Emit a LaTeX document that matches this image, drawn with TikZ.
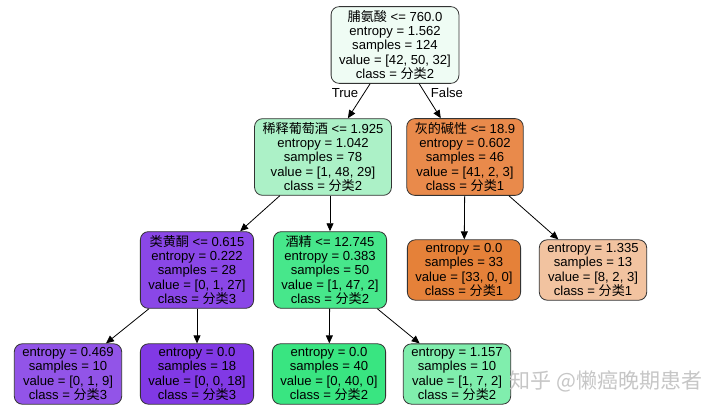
\documentclass[tikz,border=0pt]{standalone}
\usepackage{fontspec}
\setmainfont{Liberation Sans}
\newfontfamily\cjk{Noto Sans CJK SC}
\usetikzlibrary{arrows.meta}

\newcommand{\zh}[1]{{\cjk #1}}

\tikzset{
	leaf/.style={draw=black!80, line width=0.8pt, rounded corners=8pt, align=center,
		inner xsep=8pt, inner ysep=3.5pt, font=\fontsize{13.1}{14.4}\selectfont},
	edge/.style={-{Triangle[length=8pt,width=7pt]}, line width=0.8pt}
}

\begin{document}
\begin{tikzpicture}[x=1pt,y=-1pt]
	
	\useasboundingbox (0,0) rectangle (720,414);
	
	% ---- Adjustable colors ----
	\definecolor{rootCol}{HTML}{EFFCF4}
	\definecolor{colB}{HTML}{ACF1C7}
	\definecolor{colC}{HTML}{E98A4B}
	\definecolor{colD}{HTML}{8A47E7}
	\definecolor{colE}{HTML}{47E78B}
	\definecolor{colF}{HTML}{E58139}
	\definecolor{colG}{HTML}{F2C3A0}
	\definecolor{colH}{HTML}{9254E8}
	\definecolor{colI}{HTML}{8139E5}
	\definecolor{colJ}{HTML}{39E581}
	\definecolor{colK}{HTML}{80EEAD}
	
	% ---- Split nodes ----
	\node[leaf, fill=rootCol] (root) at (395,45)
		{\zh{脯氨酸} <= 760.0\\entropy = 1.562\\samples = 124\\value = [42, 50, 32]\\class = \zh{分类}2};
	\node[leaf, fill=colB] (nB) at (323,157)
		{\zh{稀释葡萄酒} <= 1.925\\entropy = 1.042\\samples = 78\\value = [1, 48, 29]\\class = \zh{分类}2};
	\node[leaf, fill=colC] (nC) at (465,157)
		{\zh{灰的碱性} <= 18.9\\entropy = 0.602\\samples = 46\\value = [41, 2, 3]\\class = \zh{分类}1};
	\node[leaf, fill=colD] (nD) at (197,270)
		{\zh{类黄酮} <= 0.615\\entropy = 0.222\\samples = 28\\value = [0, 1, 27]\\class = \zh{分类}3};
	\node[leaf, fill=colE] (nE) at (330,270)
		{\zh{酒精} <= 12.745\\entropy = 0.383\\samples = 50\\value = [1, 47, 2]\\class = \zh{分类}2};
	
	% ---- Leaves ----
	\foreach \name/\x/\y/\col/\ent/\smp/\val/\cls in {
		F/464/270/colF/0.0/33/{[33, 0, 0]}/1,
		G/593/270/colG/1.335/13/{[8, 2, 3]}/1,
		H/68/374/colH/0.469/10/{[0, 1, 9]}/3,
		I/197/374/colI/0.0/18/{[0, 0, 18]}/3,
		J/329/374/colJ/0.0/40/{[0, 40, 0]}/2,
		K/457/374/colK/1.157/10/{[1, 7, 2]}/2
	}
	{
		\node[leaf, fill=\col] (n\name) at (\x,\y)
			{entropy = \ent\\samples = \smp\\value = \val\\class = \zh{分类}\cls};
	}
	
	% ---- Edges ----
	\foreach \a/\b in {root/nB, root/nC, nB/nD, nC/nF, nC/nG, nD/nH, nD/nI, nE/nJ, nE/nK}
	\draw[edge] (\a) -- (\b);
	\draw[edge] (nB.south -| nE.north) -- (nE.north);
	
	\node[font=\fontsize{13.1}{14.4}\selectfont] (lblT) at (345,93) {True};
	\node[font=\fontsize{13.1}{14.4}\selectfont] (lblF) at (447,93) {False};
	
	% ---- Watermark ----
	\node[text=gray!45, font=\cjk\fontsize{21}{23}\selectfont] (mark) at (606,381) {知乎 @懒癌晚期患者};
	
\end{tikzpicture}
\end{document}
